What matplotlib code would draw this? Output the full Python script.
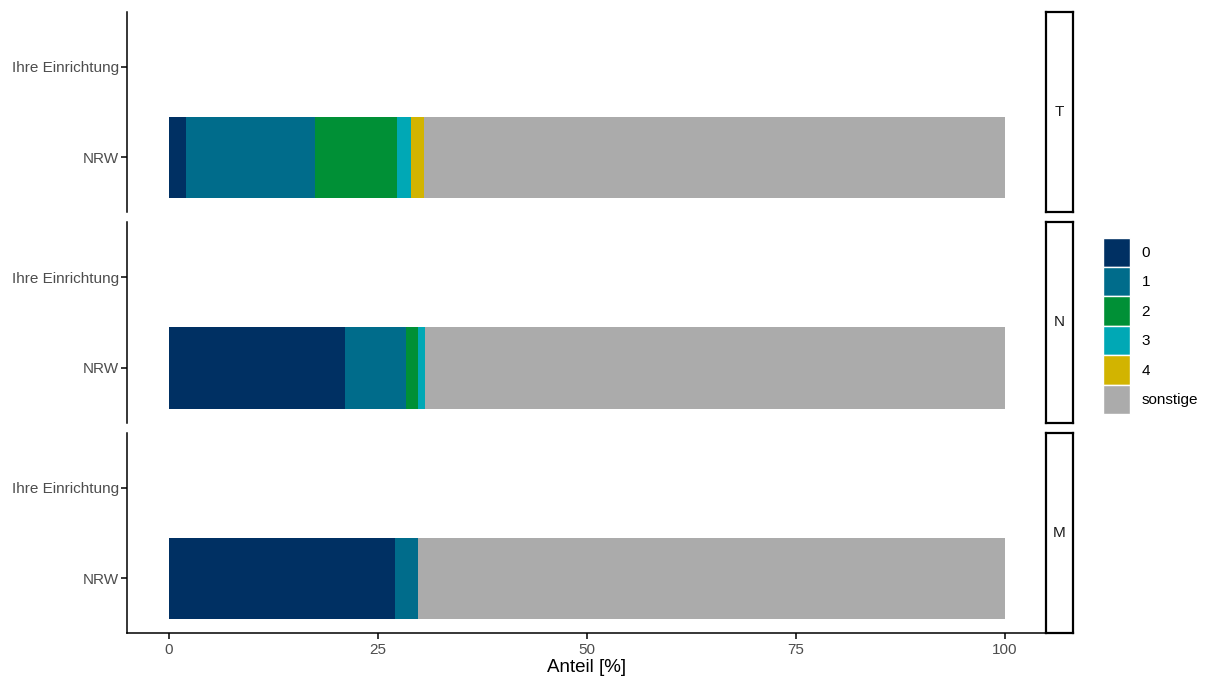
import matplotlib
matplotlib.use("Agg")
import matplotlib.pyplot as plt
from matplotlib.patches import Patch

plt.rcParams['font.family'] = ['Liberation Sans', 'DejaVu Sans']

# ---- data ----
panels = ["T", "N", "M"]
y_labels = ["NRW", "Ihre Einrichtung"]
categories = ["0", "1", "2", "3", "4", "sonstige"]
colors = ["#003063", "#006c8b", "#009036", "#00a8b5", "#d2b400", "#ababab"]
nrw_T = [2.1, 15.4, 9.8, 1.7, 1.5, 69.5]
nrw_N = [21.1, 7.25, 1.45, 0.85, 0.0, 69.35]
nrw_M = [27.1, 2.7, 0.0, 0.0, 0.0, 70.2]
ihre_T = [0, 0, 0, 0, 0, 0]
ihre_N = [0, 0, 0, 0, 0, 0]
ihre_M = [0, 0, 0, 0, 0, 0]
x_ticks = [0, 25, 50, 75, 100]
x_label = "Anteil [%]"

data = {"T": (nrw_T, ihre_T), "N": (nrw_N, ihre_N), "M": (nrw_M, ihre_M)}

W, H = 1206, 680
fig = plt.figure(figsize=(W / 100, H / 100), dpi=100)

px_left, px_right = 127, 1046.5
tops = [12, 222.5, 433]
ph = 200
strip_l, strip_r = 1046, 1073
tick_col = "#4d4d4d"
fs = 11.0

for i, p in enumerate(panels):
    top = tops[i]
    ax = fig.add_axes([px_left / W, 1 - (top + ph) / H, (px_right - px_left) / W, ph / H])
    nrw, ihre = data[p]
    for row, vals in enumerate([nrw, ihre]):
        left = 0.0
        for c, v, col in zip(categories, vals, colors):
            if v > 0:
                ax.barh(row, v, left=left, height=0.9, color=col, linewidth=0)
            left += v
    ax.set_xlim(-5, 105)
    ax.set_ylim(-0.6, 1.6)
    ax.set_yticks([0, 1])
    ax.set_yticklabels(y_labels, fontsize=fs, color=tick_col)
    for s in ["top", "right"]:
        ax.spines[s].set_visible(False)
    ax.spines["left"].set_linewidth(1.1)
    ax.tick_params(axis="y", length=4, width=1.1, color="black", pad=2)
    if i < 2:
        ax.spines["bottom"].set_visible(False)
        ax.set_xticks([])
    else:
        ax.spines["bottom"].set_linewidth(1.1)
        ax.set_xticks(x_ticks)
        ax.set_xticklabels([str(t) for t in x_ticks], fontsize=fs, color=tick_col)
        ax.tick_params(axis="x", length=4, width=1.1, color="black", pad=3)
        ax.set_xlabel(x_label, fontsize=13.5, color="black", labelpad=2)
    # strip
    sax = fig.add_axes([strip_l / W, 1 - (top + ph) / H, (strip_r - strip_l) / W, ph / H])
    sax.set_xticks([]); sax.set_yticks([])
    for s in sax.spines.values():
        s.set_linewidth(1.6)
        s.set_color("black")
    sax.text(0.5, 0.5, p, ha="center", va="center", fontsize=fs, color="#1a1a1a",
             transform=sax.transAxes)

handles = [Patch(facecolor=c, edgecolor="white", linewidth=1.0, label=l)
           for c, l in zip(colors, categories)]
leg = fig.legend(handles=handles, loc="upper left",
                 bbox_to_anchor=(1102.5 / W, 1 - 237.5 / H), frameon=False,
                 fontsize=fs, handlelength=1.83, handleheight=2.59,
                 labelspacing=0.0, handletextpad=0.72, borderpad=0, borderaxespad=0)

fig.savefig("out.png", dpi=100)
